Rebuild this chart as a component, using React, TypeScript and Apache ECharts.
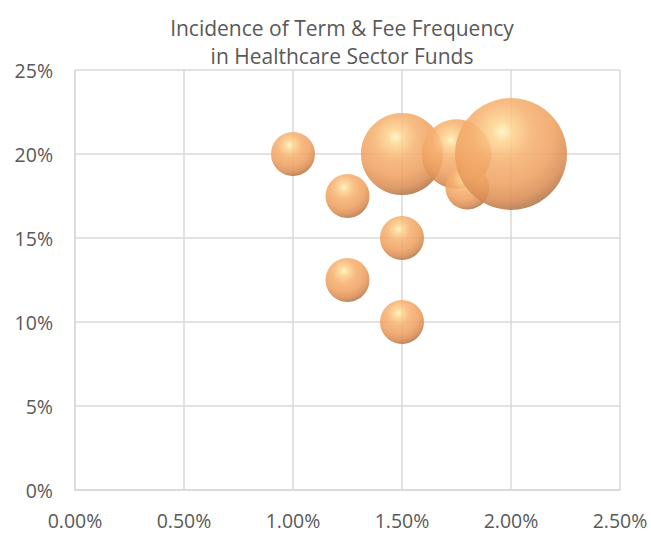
import React, { useEffect, useRef } from "react";
import * as echarts from "echarts";

const feeRates = [1.0, 1.25, 1.25, 1.5, 1.5, 1.5, 1.75, 1.8, 2.0];
const termRates = [20, 17.5, 12.5, 15, 10, 20, 20, 18, 20];
const counts = [2, 2, 2, 2, 2, 7, 5, 2, 13];
const xTicks = ["0.00%", "0.50%", "1.00%", "1.50%", "2.00%", "2.50%"];
const yTicks = ["0%", "5%", "10%", "15%", "20%", "25%"];

export default function App() {
  const ref = useRef<HTMLDivElement>(null);
  useEffect(() => {
    if (!ref.current) return;
    const chart = echarts.init(ref.current, null, { renderer: "svg" });
    const maxCount = Math.max(...counts);
    const data = feeRates.map((x, i) => [x, termRates[i], counts[i]]);
    const grad = new echarts.graphic.RadialGradient(0.42, 0.3, 0.75, [
      { offset: 0, color: "#fff4c0" },
      { offset: 0.12, color: "#fdd592" },
      { offset: 0.35, color: "#f6b272" },
      { offset: 0.62, color: "#efa262" },
      { offset: 0.82, color: "#da8d54" },
      { offset: 0.95, color: "#b07548" },
      { offset: 1, color: "#a06c45" },
    ]);
    const font = "Open Sans";
    chart.setOption({
      animation: false,
      title: {
        text: "Incidence of Term & Fee Frequency\nin Healthcare Sector Funds",
        left: 337,
        textAlign: "center",
        top: 9,
        textStyle: {
          fontFamily: font,
          fontWeight: "normal",
          fontSize: 21,
          color: "#595959",
          lineHeight: 28,
        },
      },
      grid: { left: 75, right: 31, top: 70, bottom: 43 },
      xAxis: {
        type: "value",
        min: 0,
        max: 2.5,
        interval: 0.5,
        axisLine: { show: true, lineStyle: { color: "#d9d9d9", width: 1.5 } },
        axisTick: { show: false },
        splitLine: { show: true, lineStyle: { color: "#d9d9d9", width: 1.5 } },
        axisLabel: {
          margin: 20,
          fontFamily: font,
          fontSize: 19.5,
          color: "#595959",
          formatter: (v: number) => xTicks[Math.round(v / 0.5)] ?? "",
        },
      },
      yAxis: {
        type: "value",
        min: 0,
        max: 25,
        interval: 5,
        axisLine: { show: true, lineStyle: { color: "#d9d9d9", width: 1.5 } },
        axisTick: { show: false },
        splitLine: { show: true, lineStyle: { color: "#d9d9d9", width: 1.5 } },
        axisLabel: {
          margin: 22,
          fontFamily: font,
          fontSize: 19.5,
          color: "#595959",
          formatter: (v: number) => yTicks[Math.round(v / 5)] ?? "",
        },
      },
      series: [
        {
          type: "scatter",
          data,
          symbolSize: (d: number[]) => 112 * Math.sqrt(d[2] / maxCount),
          itemStyle: { color: grad, opacity: 0.88 },
        },
      ],
    });
    return () => chart.dispose();
  }, []);
  return <div ref={ref} style={{ width: 651, height: 533, position: "absolute", left: 0, top: 0 }} />;
}
